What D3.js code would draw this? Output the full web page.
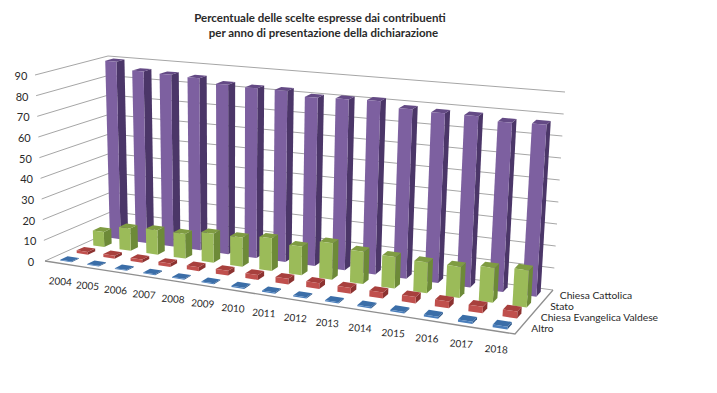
<!DOCTYPE html>
<html lang="en">
<head>
    <meta charset="UTF-8">
    <title>Percentuale delle scelte</title>
    <script src="https://d3js.org/d3.v7.min.js"></script>
    <style>
        body { margin: 0; background: #fff; }
        svg { display: block; }
        text { font-family: Lato, "Open Sans", sans-serif; fill: #2a2a2a; }
    </style>
</head>
<body>
<script>
    var years = ["2004", "2005", "2006", "2007", "2008", "2009", "2010", "2011", "2012", "2013", "2014", "2015", "2016", "2017", "2018"];
    var series_names = ["Altro", "Chiesa Evangelica Valdese", "Stato", "Chiesa Cattolica"];

    var altro = [0.4, 0.4, 0.4, 0.4, 0.4, 0.4, 0.5, 0.5, 0.5, 0.5, 0.6, 0.7, 0.9, 1.0, 1.1];
    var valdese = [1.3, 1.4, 1.5, 1.6, 1.9, 2.2, 2.3, 2.6, 2.7, 2.6, 2.7, 2.9, 3.0, 2.9, 3.0];
    var stato = [7.5, 11, 12, 12, 14, 14, 15.5, 13.5, 17, 15, 14.5, 14, 14, 15.5, 16.5];
    var cattolica = [89.8, 86, 85.5, 85, 83, 82.5, 82.5, 80.5, 81, 81.5, 79, 78.5, 78.5, 77, 77.5];

    var values = [altro, valdese, stato, cattolica];
    var y_ticks = [0, 10, 20, 30, 40, 50, 60, 70, 80, 90];

    // front, side, top
    var face_colors = [
        ["#4a7ebb", "#2f5a8c", "#3b6ea8"],
        ["#c0504d", "#8c3230", "#a8403d"],
        ["#9bbb59", "#6d8a38", "#7f9c42"],
        ["#7d60a0", "#4b3668", "#644a85"]
    ];

    var width = 717, height = 393;

    // corners of the box on screen: front-left, front-right, back-right, back-left
    var floor_quad = [[45, 261], [515, 334], [553, 290], [112, 231]];
    var top_quad = [[35, 75], [528, 124], [565, 92], [108, 56]];

    // years get a bit wider towards the right
    var spread = 0.143;

    function bilinear(q) {
        return function (u, v) {
            var w = (1 - spread) * u + spread * u * u;
            return [0, 1].map(function (k) {
                var front = q[0][k] + (q[1][k] - q[0][k]) * w;
                var back = q[3][k] + (q[2][k] - q[3][k]) * w;
                return front + (back - front) * v;
            });
        };
    }

    var floor_h = bilinear(floor_quad);
    var top_h = bilinear(top_quad);

    var x_scale = d3.scaleBand().domain(years).range([0.007, 1]).paddingInner(0.58).paddingOuter(0.29);
    var z_scale = d3.scaleBand().domain(series_names).range([0, 1]).paddingInner(0.55).paddingOuter(0.275);
    var y_scale = d3.scaleLinear().domain([0, 90]).range([0, 1]);

    // u across the years, v into the depth, val in percent
    function project(u, v, val) {
        var p0 = floor_h(u, v), p1 = top_h(u, v), t = y_scale(val);
        return [p0[0] + (p1[0] - p0[0]) * t, p0[1] + (p1[1] - p0[1]) * t];
    }

    var graph = d3.select("body").append("svg")
        .attr("width", width)
        .attr("height", height)
        .attr("viewBox", [0, 0, width, height]);

    var line = d3.line();
    var grid_color = "#a6a6a6";

    // walls
    var grid = graph.append("g").attr("fill", "none").attr("stroke", grid_color).attr("stroke-width", 1);
    y_ticks.forEach(function (t) {
        grid.append("path").attr("d", line([project(0, 0, t), project(0, 1, t), project(1, 1, t)]));
    });
    grid.append("path").attr("d", line(d3.range(0, 1.01, 0.1).map(function (u) {
            return project(u, 0, 0);
        }).concat([project(1, 1, 0)])))
        .attr("stroke-width", 1.3)
        .attr("stroke", "#8f8f8f");

    // bars, back row first
    d3.range(series_names.length - 1, -1, -1).forEach(function (s) {
        var v0 = z_scale(series_names[s]), v1 = v0 + z_scale.bandwidth();
        var colors = face_colors[s];
        var row = graph.append("g");
        years.forEach(function (year, i) {
            var u0 = x_scale(year), u1 = u0 + x_scale.bandwidth();
            var val = values[s][i];
            row.append("path").attr("fill", colors[1]).attr("d", line([
                project(u1, v0, 0), project(u1, v1, 0), project(u1, v1, val), project(u1, v0, val)]) + "Z");
            row.append("path").attr("fill", colors[2]).attr("d", line([
                project(u0, v0, val), project(u1, v0, val), project(u1, v1, val), project(u0, v1, val)]) + "Z");
            row.append("path").attr("fill", colors[0]).attr("d", line([
                project(u0, v0, 0), project(u1, v0, 0), project(u1, v0, val), project(u0, v0, val)]) + "Z");
        });
    });

    // value labels
    y_ticks.forEach(function (t) {
        var p = project(0, 0, t);
        graph.append("text")
            .attr("x", p[0] - 14)
            .attr("y", p[1] + 1)
            .attr("dy", ".35em")
            .attr("text-anchor", "middle")
            .attr("font-size", 11)
            .text(t);
    });

    // year labels
    years.forEach(function (year) {
        var p = project(x_scale(year) + x_scale.bandwidth() / 2, 0, 0);
        graph.append("text")
            .attr("transform", "translate(" + (p[0] - 1) + "," + (p[1] + 18) + ") rotate(4)")
            .attr("dy", ".35em")
            .attr("text-anchor", "middle")
            .attr("font-size", 10)
            .text(year);
    });

    // series labels
    series_names.forEach(function (name) {
        var p = project(1, z_scale(name) + z_scale.bandwidth() / 2, 0);
        graph.append("text")
            .attr("x", p[0] + 11.5)
            .attr("y", p[1])
            .attr("dy", ".35em")
            .attr("font-size", 10.3)
            .text(name);
    });

    // title
    graph.append("text")
        .attr("x", 320)
        .attr("y", 22)
        .attr("text-anchor", "middle")
        .attr("font-size", 11.5)
        .attr("font-weight", "bold")
        .text("Percentuale delle scelte espresse dai contribuenti");
    graph.append("text")
        .attr("x", 323.5)
        .attr("y", 37)
        .attr("text-anchor", "middle")
        .attr("font-size", 11.5)
        .attr("font-weight", "bold")
        .text("per anno  di presentazione della dichiarazione");
</script>
</body>
</html>
